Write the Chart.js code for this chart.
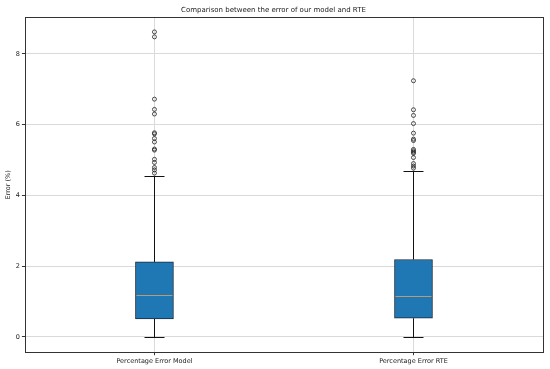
<!DOCTYPE html>
<html>
<head>
<meta charset="utf-8">
<script src="https://cdn.jsdelivr.net/npm/chart.js@4.4.0/dist/chart.umd.min.js"></script>
<style>
  html, body { margin: 0; padding: 0; background: #fff; }
  #wrap { width: 550px; height: 369px; }
</style>
</head>
<body>
<div id="wrap"><canvas id="chart" width="550" height="369"></canvas></div>
<script>
// values
var categories = ['Percentage Error Model', 'Percentage Error RTE'];
var q1 = [0.51, 0.53];
var median = [1.19, 1.16];
var q3 = [2.12, 2.19];
var whiskerLow = [0, 0];
var whiskerHigh = [4.55, 4.69];
var outliersModel = [8.62, 8.48, 6.72, 6.43, 6.3, 5.77, 5.74, 5.61, 5.51, 5.31, 5.28, 5.02, 4.93, 4.79, 4.72, 4.63];
var outliersRTE = [7.24, 6.42, 6.26, 6.03, 5.76, 5.59, 5.55, 5.3, 5.26, 5.22, 5.19, 5.07, 4.9, 4.83, 4.77];
var yTicks = [0, 2, 4, 6, 8];

var boxColor = '#1f77b4';
var textColor = '#222';
var fontFamily = "'DejaVu Sans', sans-serif";

var outlierPoints = [];
outliersModel.forEach(function (v) { outlierPoints.push({ x: categories[0], y: v }); });
outliersRTE.forEach(function (v) { outlierPoints.push({ x: categories[1], y: v }); });

// whiskers, caps, medians and the frame, drawn through the chart's scales
var boxExtras = {
    id: 'boxExtras',
    beforeDatasetsDraw: function (chart) {
        var ctx = chart.ctx;
        var xs = chart.scales.x, ys = chart.scales.y;
        ctx.save();
        ctx.strokeStyle = '#111';
        ctx.lineWidth = 1;
        categories.forEach(function (c, i) {
            var x = Math.round(xs.getPixelForValue(i)) + 0.5;
            var half = 10;
            ctx.beginPath();
            ctx.moveTo(x, ys.getPixelForValue(q3[i]));
            ctx.lineTo(x, ys.getPixelForValue(whiskerHigh[i]));
            ctx.moveTo(x, ys.getPixelForValue(q1[i]));
            ctx.lineTo(x, ys.getPixelForValue(whiskerLow[i]));
            var yh = Math.round(ys.getPixelForValue(whiskerHigh[i])) + 0.5;
            var yl = Math.round(ys.getPixelForValue(whiskerLow[i])) + 0.5;
            ctx.moveTo(x - half, yh); ctx.lineTo(x + half, yh);
            ctx.moveTo(x - half, yl); ctx.lineTo(x + half, yl);
            ctx.stroke();
        });
        ctx.restore();
    },
    afterDatasetsDraw: function (chart) {
        var ctx = chart.ctx;
        var ys = chart.scales.y;
        var meta = chart.getDatasetMeta(0);
        ctx.save();
        ctx.strokeStyle = '#b89a74';
        ctx.lineWidth = 1;
        categories.forEach(function (c, i) {
            var bar = meta.data[i];
            var half = bar.width / 2;
            var y = Math.round(ys.getPixelForValue(median[i])) + 0.5;
            ctx.beginPath();
            ctx.moveTo(bar.x - half + 1, y);
            ctx.lineTo(bar.x + half - 1, y);
            ctx.stroke();
        });
        var a = chart.chartArea;
        ctx.strokeStyle = '#333';
        ctx.strokeRect(Math.round(a.left) + 0.5, Math.round(a.top) + 0.5,
            Math.round(a.right - a.left), Math.round(a.bottom - a.top));
        ctx.restore();
    }
};

var ctx = document.getElementById('chart');
var chart = new Chart(ctx, {
    type: 'bar',
    data: {
        labels: categories,
        datasets: [{
            label: 'box',
            data: q1.map(function (v, i) { return [v, q3[i]]; }),
            backgroundColor: boxColor,
            borderColor: '#1a2a3a',
            borderWidth: 1,
            borderSkipped: false,
            barThickness: 38,
            order: 2
        }, {
            type: 'line',
            label: 'outliers',
            data: outlierPoints,
            showLine: false,
            pointRadius: 2,
            pointBorderWidth: 0.8,
            pointBackgroundColor: 'rgba(0,0,0,0)',
            pointBorderColor: '#222',
            order: 1
        }]
    },
    options: {
        responsive: false,
        animation: false,
        devicePixelRatio: 1,
        layout: { padding: { left: 4, right: 7, top: 6, bottom: 2 } },
        plugins: {
            legend: { display: false },
            tooltip: { enabled: false },
            title: {
                display: true,
                text: 'Comparison between the error of our model and RTE',
                color: textColor,
                font: { family: fontFamily, size: 7, weight: 'normal' },
                padding: { top: 0, bottom: 3 }
            }
        },
        scales: {
            x: {
                type: 'category',
                offset: true,
                grid: { offset: false, color: '#dadada', tickColor: '#333', tickLength: 3 },
                border: { display: false },
                ticks: { color: textColor, font: { family: fontFamily, size: 6.5 }, padding: 2, maxRotation: 0 }
            },
            y: {
                min: -0.43,
                max: 9.03,
                afterBuildTicks: function (scale) {
                    scale.ticks = yTicks.map(function (v) { return { value: v }; });
                },
                grid: { color: '#dadada', tickColor: '#333', tickLength: 3 },
                border: { display: false },
                ticks: { color: textColor, font: { family: fontFamily, size: 6.5 }, padding: 2 },
                title: {
                    display: true,
                    text: 'Error (%)',
                    color: textColor,
                    font: { family: fontFamily, size: 6.5 },
                    padding: { top: 0, bottom: 2 }
                }
            }
        }
    },
    plugins: [boxExtras]
});
</script>
</body>
</html>
